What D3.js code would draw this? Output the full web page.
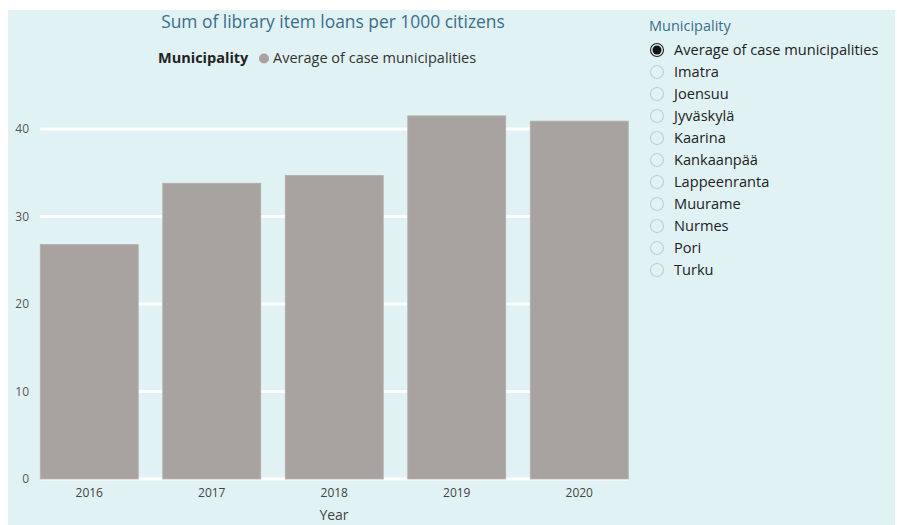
<!DOCTYPE html>
<html>
<head>
<meta charset="utf-8">
<script src="https://cdn.jsdelivr.net/npm/d3@7"></script>
<style>
  body { margin:0; background:#fff; font-family:"Open Sans", "DejaVu Sans", sans-serif; }
</style>
</head>
<body>
<div id="chart"></div>
<script>
var years = ["2016", "2017", "2018", "2019", "2020"];
var loans = [26.8, 33.8, 34.7, 41.5, 40.9];
var yTicks = [0, 10, 20, 30, 40];
var municipalities = ["Average of case municipalities", "Imatra", "Joensuu", "Jyväskylä", "Kaarina",
  "Kankaanpää", "Lappeenranta", "Muurame", "Nurmes", "Pori", "Turku"];
var selected = "Average of case municipalities";

var W = 897, H = 525;
var svg = d3.select("#chart").append("svg")
    .attr("width", W).attr("height", H);

svg.append("rect")
    .attr("x", 8).attr("y", 10).attr("width", W - 10).attr("height", H - 10)
    .attr("fill", "#e1f2f5");

var x = d3.scaleBand().domain(years).range([28, 640.5]).paddingInner(0.2).paddingOuter(0.1);
var y = d3.scaleLinear().domain([0, 40]).range([479, 129]);

// gridlines
svg.append("g").selectAll("line")
    .data(yTicks).enter().append("line")
    .attr("x1", x(years[0])).attr("x2", x(years[years.length - 1]) + x.bandwidth())
    .attr("y1", function(d) { return y(d); }).attr("y2", function(d) { return y(d); })
    .attr("stroke", "#fff").attr("stroke-width", 3);

// bars
svg.append("g").selectAll("rect")
    .data(loans).enter().append("rect")
    .attr("x", function(d, i) { return x(years[i]); })
    .attr("width", x.bandwidth())
    .attr("y", function(d) { return y(d); })
    .attr("height", function(d) { return y(0) - y(d); })
    .attr("fill", "#a8a3a0")
    .attr("stroke", "#b4b0ad").attr("stroke-width", 0.8);

// y axis
var yAxis = svg.append("g").attr("transform", "translate(29,0)")
    .call(d3.axisLeft(y).tickValues(yTicks).tickSize(0).tickPadding(0));
yAxis.select(".domain").remove();
yAxis.selectAll("text").attr("font-size", 12).attr("fill", "#555")
    .attr("font-family", "'Open Sans', sans-serif");

// x axis
var xAxis = svg.append("g").attr("transform", "translate(0,486)")
    .call(d3.axisBottom(x).tickSize(0).tickPadding(2));
xAxis.select(".domain").remove();
xAxis.selectAll("text").attr("font-size", 12).attr("fill", "#444")
    .attr("font-family", "'Open Sans', sans-serif");

svg.append("text").attr("x", 334).attr("y", 520).attr("text-anchor", "middle")
    .attr("font-size", 14).attr("fill", "#444").text("Year");

// title
svg.append("text").attr("x", 333).attr("y", 28).attr("text-anchor", "middle")
    .attr("font-size", 17.4).attr("fill", "#3b6d8a")
    .text("Sum of library item loans per 1000 citizens");

// legend
svg.append("text").attr("x", 158).attr("y", 63)
    .attr("font-size", 14.5).attr("font-weight", "bold").attr("fill", "#222").text("Municipality");
svg.append("circle").attr("cx", 264).attr("cy", 58.5).attr("r", 5).attr("fill", "#a8a3a0");
svg.append("text").attr("x", 273).attr("y", 63)
    .attr("font-size", 14.5).attr("fill", "#333").text(selected);

// slicer
svg.append("text").attr("x", 649).attr("y", 31)
    .attr("font-size", 14.5).attr("fill", "#3b6d8a").text("Municipality");

var item = svg.append("g").selectAll("g")
    .data(municipalities).enter().append("g")
    .attr("transform", function(d, i) { return "translate(0," + (50 + i * 22.0) + ")"; });
item.append("circle").attr("cx", 657).attr("cy", 0).attr("r", 6.5)
    .attr("fill", "none")
    .attr("stroke", function(d) { return d === selected ? "#222" : "#c6cdcf"; })
    .attr("stroke-width", 1.1);
item.filter(function(d) { return d === selected; }).append("circle")
    .attr("cx", 657).attr("cy", 0).attr("r", 4.5).attr("fill", "#111");
item.append("text").attr("x", 674).attr("y", 5)
    .attr("font-size", 14.6).attr("fill", "#222").text(function(d) { return d; });
</script>
</body>
</html>
